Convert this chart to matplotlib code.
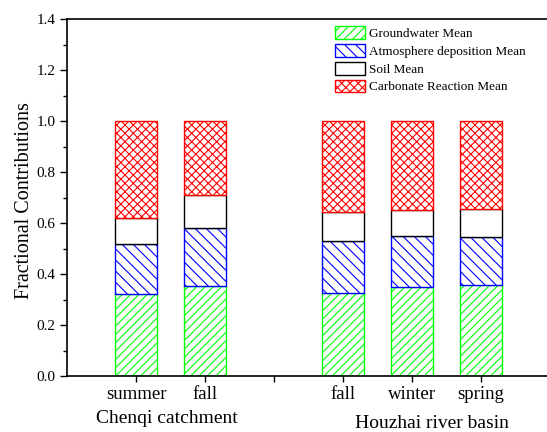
import numpy as np
import matplotlib
matplotlib.use('Agg')
from matplotlib import pyplot as plt
from matplotlib.ticker import MultipleLocator

plt.rcParams['font.family'] = ['Liberation Serif', 'DejaVu Serif']
plt.rcParams['hatch.linewidth'] = 0.8

# season labels and source fractions (stacked, each bar sums to 1)
seasons = ['summer', 'fall', '', 'fall', 'winter', 'spring']
positions = [1, 2, 4, 5, 6]
groundwater = [0.320, 0.354, 0.327, 0.350, 0.356]
atmosphere = [0.199, 0.228, 0.204, 0.198, 0.189]
soil = [0.101, 0.128, 0.113, 0.103, 0.111]
carbonate = [0.380, 0.290, 0.356, 0.349, 0.344]

groups = ['Chenqi catchment', 'Houzhai river basin']
group_x = [1.45, 5.29]
group_y = [-0.118, -0.132]

fig = plt.figure(figsize=(5.47, 4.32), dpi=100)
ax = fig.add_axes([0.1225, 0.1296, 0.883, 0.826])

series = [
    (groundwater, 'Groundwater Mean', '#00ff00', '////'),
    (atmosphere, 'Atmosphere deposition Mean', '#0000ff', '\\\\\\'),
    (soil, 'Soil Mean', '#000000', ''),
    (carbonate, 'Carbonate Reaction Mean', '#ff0000', 'xxxx'),
]
bottom = np.zeros(len(positions))
for vals, name, col, hatch in series:
    ax.bar(positions, vals, width=0.6, bottom=bottom, color='white',
           edgecolor=col, hatch=hatch, linewidth=1.0, label=name)
    bottom += np.array(vals)

ax.set_xlim(0, 7)
ax.set_ylim(0, 1.4)
ax.set_xticks([1, 2, 3, 4, 5, 6])
ax.set_xticklabels(seasons, fontsize=13.5)
ax.yaxis.set_minor_locator(MultipleLocator(0.1))
ax.set_yticks(np.arange(0, 1.41, 0.2))
ax.set_yticklabels(['%.1f' % v for v in np.arange(0, 1.41, 0.2)], fontsize=11)
ax.tick_params(axis='x', direction='out', length=4, width=1, pad=3)
ax.tick_params(axis='y', which='major', direction='out', length=5, width=1)
ax.tick_params(axis='y', which='minor', direction='out', length=3, width=1)
ax.spines['right'].set_visible(False)
for s in ['left', 'bottom', 'top']:
    ax.spines[s].set_linewidth(1.2)

ax.set_ylabel('Fractional Contributions', fontsize=14.5)
ax.yaxis.set_label_coords(-0.068, 0.493)

for name, gx, gy in zip(groups, group_x, group_y):
    ax.text(gx, gy, name, transform=ax.get_xaxis_transform(),
            ha='center', va='center', fontsize=14)

ax.legend(loc='upper left', bbox_to_anchor=(0.555, 0.98), frameon=False,
          fontsize=9.5, handlelength=2.3, handleheight=1.1,
          handletextpad=0.3, labelspacing=0.3, borderaxespad=0,
          borderpad=0)

fig.savefig('out.png', dpi=100)
